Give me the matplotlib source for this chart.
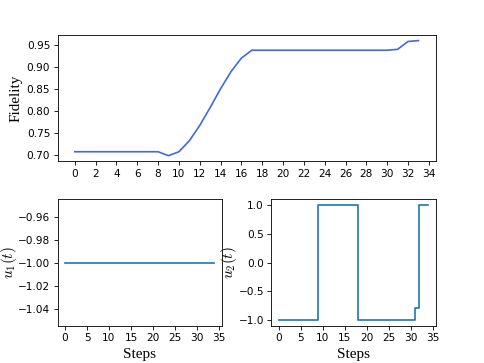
import matplotlib
matplotlib.use('Agg')
import matplotlib.pyplot as plt
import numpy as np

plt.rcParams['mathtext.fontset'] = 'cm'
plt.rcParams['lines.linewidth'] = 1.6

# fidelity per step
steps_f = list(range(34))
fidelity = [0.707, 0.707, 0.707, 0.707, 0.707, 0.707, 0.707, 0.707, 0.707,
            0.698, 0.707, 0.732, 0.767, 0.808, 0.851, 0.890, 0.921, 0.939,
            0.939, 0.939, 0.939, 0.939, 0.939, 0.939, 0.939, 0.939, 0.939,
            0.939, 0.939, 0.939, 0.939, 0.941, 0.959, 0.961]

# controls per step
steps_u = list(range(35))
u1 = [-1.0] * 35
u2 = [-1, -1, -1, -1, -1, -1, -1, -1, -1,
      1, 1, 1, 1, 1, 1, 1, 1, 1,
      -1, -1, -1, -1, -1, -1, -1, -1, -1, -1, -1, -1, -1,
      -0.78, 1, 1, 1]

fig = plt.figure(figsize=(6.4, 4.8), dpi=75.625)
gs = fig.add_gridspec(2, 2, left=0.119, right=0.9, top=0.904, bottom=0.102,
                      hspace=0.3, wspace=0.3)
ax1 = fig.add_subplot(gs[0, :])
ax2 = fig.add_subplot(gs[1, 0])
ax3 = fig.add_subplot(gs[1, 1])

ax1.plot(steps_f, fidelity, color='royalblue')
ax1.set_xticks(np.arange(0, 35, 2))
ax1.set_yticks([0.70, 0.75, 0.80, 0.85, 0.90, 0.95])
ax1.set_ylabel('Fidelity', family='Liberation Serif', fontsize=14.5)
ax1.yaxis.set_label_coords(-0.093, 0.5)

ax2.plot(steps_u, u1)
ax2.set_xticks(np.arange(0, 36, 5))
ax2.set_yticks([-0.96, -0.98, -1.00, -1.02, -1.04])
ax2.set_ylabel(r'$u_1(t)$', fontsize=14.5)
ax2.yaxis.set_label_coords(-0.235, 0.5)
ax2.set_xlabel('Steps', family='Liberation Serif', fontsize=14.5)

ax3.step(steps_u, u2, where='post')
ax3.set_xticks(np.arange(0, 36, 5))
ax3.set_yticks([-1.0, -0.5, 0.0, 0.5, 1.0])
ax3.set_ylabel(r'$u_2(t)$', fontsize=14.5)
ax3.yaxis.set_label_coords(-0.195, 0.5)
ax3.set_xlabel('Steps', family='Liberation Serif', fontsize=14.5)

plt.savefig('out.png', dpi=75.625)
